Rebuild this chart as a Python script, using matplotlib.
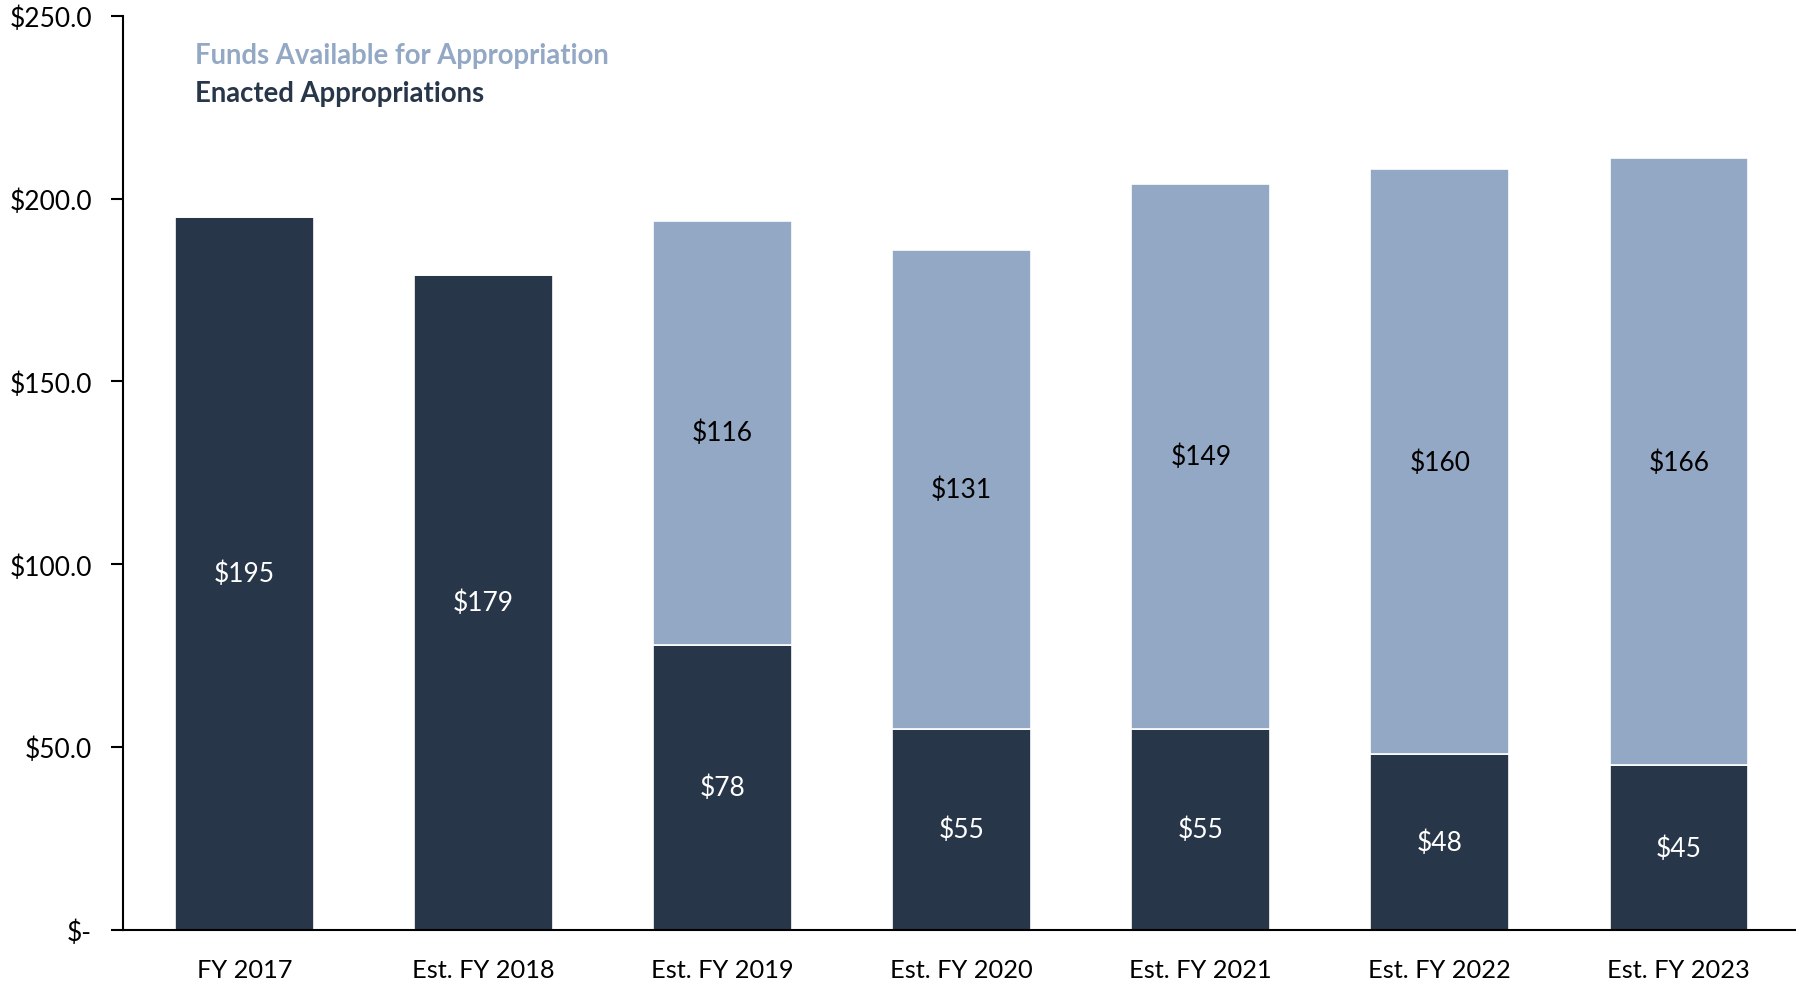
import matplotlib
matplotlib.use("Agg")
import matplotlib.pyplot as plt
import numpy as np

categories = ["FY 2017", "Est. FY 2018", "Est. FY 2019", "Est. FY 2020",
              "Est. FY 2021", "Est. FY 2022", "Est. FY 2023"]
enacted = [195, 179, 78, 55, 55, 48, 45]
funds_available = [0, 0, 116, 131, 149, 160, 166]
yticks = [0, 50, 100, 150, 200, 250]
ytick_labels = ["$-", "$50.0", "$100.0", "$150.0", "$200.0", "$250.0"]

dark = "#283649"
light = "#93A8C4"

plt.rcParams['font.family'] = ['Lato', 'DejaVu Sans']

fig = plt.figure(figsize=(17.96, 9.87), dpi=100)
ax = fig.add_axes([0.0683, 0.0567, 0.9317, 0.9263])

x = np.arange(len(categories))
w = 0.58
ax.bar(x, enacted, width=w, color=dark, edgecolor="white", linewidth=1.2)
ax.bar(x, funds_available, width=w, bottom=enacted, color=light,
       edgecolor="white", linewidth=1.2)

for i in range(len(x)):
    ax.text(x[i], enacted[i] / 2, f"${enacted[i]}", ha="center", va="center",
            color="white", fontsize=19)
    if funds_available[i] > 0:
        ax.text(x[i], enacted[i] + funds_available[i] / 2, f"${funds_available[i]}",
                ha="center", va="center", color="black", fontsize=19)

ax.set_xlim(-0.51, 6.49)
ax.set_ylim(0, 250)
ax.set_yticks(yticks)
ax.set_yticklabels(ytick_labels, fontsize=19)
ax.set_xticks(x)
ax.set_xticklabels(categories, fontsize=18.3)
ax.tick_params(axis="x", length=0, pad=20)
ax.tick_params(axis="y", length=9, width=1.5, pad=13, direction="out")
for s in ["top", "right"]:
    ax.spines[s].set_visible(False)
ax.spines["left"].set_linewidth(1.5)
ax.spines["bottom"].set_linewidth(1.5)

ax.text(0.0435, 0.957, "Funds Available for Appropriation", transform=ax.transAxes,
        color=light, fontsize=19.8, fontweight="bold", va="center", ha="left")
ax.text(0.0435, 0.916, "Enacted Appropriations", transform=ax.transAxes,
        color=dark, fontsize=19.8, fontweight="bold", va="center", ha="left")

fig.savefig("out.png", dpi=100)
